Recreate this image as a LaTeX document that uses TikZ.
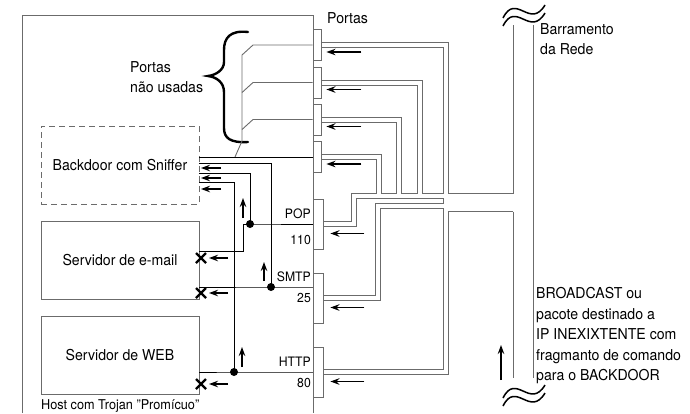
\documentclass[tikz,border=0pt]{standalone}
\usepackage{fontspec}
\setmainfont{TeX Gyre Heros}[FakeStretch=0.94]
\usetikzlibrary{arrows.meta}
\definecolor{cinza}{gray}{0.42}
\pgfdeclarelayer{fundo}
\pgfsetlayers{fundo,main}

\tikzset{
  caixa/.style={draw=cinza, line width=0.9pt, minimum width=158pt, minimum height=78pt,
    inner sep=0pt, font=\fontsize{15}{18}\selectfont},
  porta/.style={draw=cinza, fill=white, line width=0.9pt, minimum width=8pt,
    minimum height=31pt, inner sep=0pt},
  portalarga/.style={porta, minimum width=10pt, minimum height=50pt},
  fio/.style={line width=0.9pt},
  seta/.style={line width=1.2pt, ->},
  rotulo/.style={font=\fontsize{13}{14}\selectfont, inner sep=0pt},
  texto/.style={font=\fontsize{15}{20.5}\selectfont, inner sep=0pt, align=left},
  xis/.style={line width=2.4pt},
}

\begin{document}
\begin{tikzpicture}[x=1pt, y=-1pt, >={Stealth[length=9pt, width=6.5pt]}]
    \useasboundingbox (0,0) rectangle (690,413);

    % host
    \draw[cinza, line width=0.9pt] (22,413) -- (22,15) -- (313,15) -- (313,413);
    \node[texto, anchor=west, font=\fontsize{13.5}{16}\selectfont] (host) at (41,406)
        {Host com Trojan "Promícuo"};

    \node[caixa, dashed, dash pattern=on 6pt off 4pt] (bd) at (120,165) {Backdoor com Sniffer};
    \node[caixa] (em) at (120,260) {Servidor de e-mail};
    \node[caixa] (web) at (120,355.5) {Servidor de WEB};

    % portas
    \node[porta] (p1) at (317,45) {};
    \node[porta] (p2) at (317,82.5) {};
    \node[porta] (p3) at (317,119.5) {};
    \node[porta] (p4) at (317,157) {};
    \node[portalarga] (ppop) at (318,224) {};
    \node[portalarga] (psmtp) at (318,298) {};
    \node[portalarga] (phttp) at (318,372) {};

    \node[texto, anchor=west] (portas) at (327,18) {Portas};
    \node[rotulo, anchor=east] (lpop) at (311,214) {POP};
    \node[rotulo, anchor=east] (npop) at (311,240) {110};
    \node[rotulo, anchor=east] (lsmtp) at (311,277) {SMTP};
    \node[rotulo, anchor=east] (nsmtp) at (311,298) {25};
    \node[rotulo, anchor=east] (lhttp) at (311,362) {HTTP};
    \node[rotulo, anchor=east] (nhttp) at (311,383) {80};

    % cabos ate o barramento
    \begin{pgfonlayer}{fundo}
    \draw[cinza, line width=1pt] (513,193.5) -- (443,193.5) -- (443,211.5) -- (513,211.5);
    \foreach \cor/\larg in {cinza/6pt, white/4pt} {
        \draw[\cor, line width=\larg] (p1.east) -| (445.5,200);
        \draw[\cor, line width=\larg] (p2.east) -| (419.5,196);
        \draw[\cor, line width=\larg] (p3.east) -| (398.5,196);
        \draw[\cor, line width=\larg] (p4.east) -| (378.5,196);
        \draw[\cor, line width=\larg] (ppop.east) -| (353.5,196) -- (450,196);
        \draw[\cor, line width=\larg] (psmtp.east) -| (378,206) -- (450,206);
        \draw[\cor, line width=\larg] (phttp.east) -| (445.5,205);
    }
    \fill[white] (443.5,194) rectangle (512.5,211);
    \end{pgfonlayer}

    % barramento
    \draw[cinza, fio] (513,25) -- (513,193.5) (513,211.5) -- (513,378);
    \draw[cinza, fio] (533,25) -- (533,378);
    \foreach \d in {0,8}
        \draw[line width=1.5pt] (503,18+\d) .. controls (516,-8+\d) and (530,30+\d) .. (545,5+\d);
    \foreach \d in {385,393}
        \draw[line width=1.5pt] (503,13+\d) .. controls (516,-13+\d) and (530,25+\d) .. (545,0+\d);
    \node[texto, anchor=north west] (rede) at (540,23) {Barramento\\da Rede};
    \node[texto, anchor=west] (broad) at (536,336)
        {BROADCAST ou\\pacote destinado a\\IP INEXIXTENTE com\\fragmanto de comando\\para o BACKDOOR};
    \draw[seta] (501,380) -- (501,345);

    % setas de chegada nas portas
    \foreach \p in {p1,p2,p3,p4}
        \draw[seta] ([shift={(40,7)}]\p.east) -- ([shift={(5,7)}]\p.east);
    \foreach \p in {ppop,psmtp,phttp}
        \draw[seta] ([shift={(41,9.5)}]\p.east) -- ([shift={(7,9.5)}]\p.east);

    % portas nao usadas
    \draw[line width=2.4pt, line cap=round] (248,32) .. controls (230,30) and (224,38) .. (224,50)
        -- (224,62) .. controls (224,70) and (216,75) .. (208,76)
        .. controls (216,77) and (224,82) .. (224,92) -- (224,128)
        .. controls (224,138) and (230,143) .. (248,142);
    \node[texto, anchor=west] (naousadas) at (130,77) {Portas\\não usadas};
    \draw[fio, cinza] (p1.west) -- (253,45) -- (242,55) -- (242,141) -- (235,157);
    \draw[fio, cinza] (p2.west) -- (253,82.5) -- (242,92.5);
    \draw[fio, cinza] (p3.west) -- (253,119.5) -- (242,129.5);
    \draw[fio] (p4.west) -- (p4.west -| bd.east);

    % servicos
    \coordinate (dpop) at (250,224);
    \coordinate (dsmtp) at (271,287);
    \coordinate (dhttp) at (234,372);
    \draw[fio] (ppop.west) -- (dpop) -- (243,224) |- ([yshift=9pt]em.east);
    \draw[fio] ([yshift=11pt]psmtp.west) -- (dsmtp) -- (dsmtp -| em.east);
    \draw[fio] (phttp.west) -- (dhttp) -- (dhttp -| web.east);
    \draw[fio] (dsmtp) |- ([yshift=2pt]bd.east);
    \draw[fio] (dpop) |- ([yshift=-8pt]bd.east);
    \draw[fio] (dhttp) |- ([yshift=-17pt]bd.east);
    \foreach \c in {dpop,dsmtp,dhttp}
        \fill (\c) circle (4pt);

    \foreach \y in {168,178,189}
        \draw[seta] (221,\y) -- (201,\y);
    \draw[seta] (243,218) -- (243,198);
    \draw[seta] (264,281) -- (264,262);
    \draw[seta] (242,367) -- (242,347);

    % bloqueado
    \foreach \y in {258,293,384} {
        \draw[xis] (196,\y-5) -- (206,\y+5) (196,\y+5) -- (206,\y-5);
        \draw[seta] (228,\y) -- (209,\y);
    }
\end{tikzpicture}
\end{document}
